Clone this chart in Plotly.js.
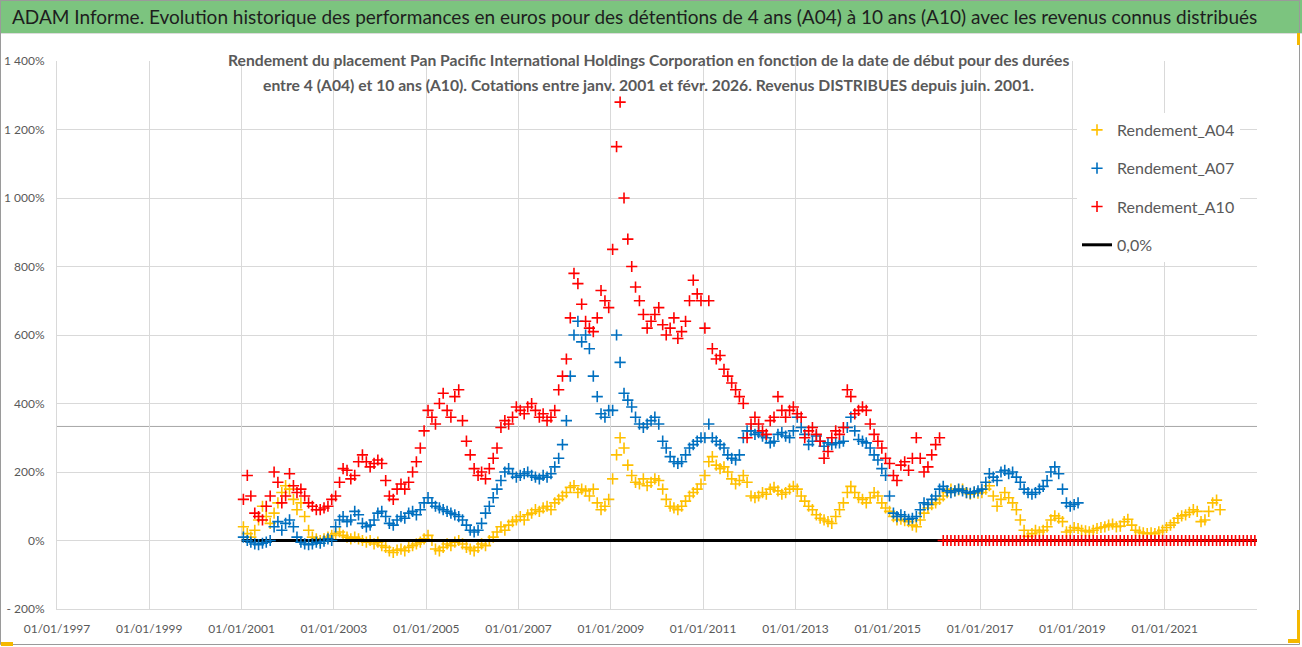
<!DOCTYPE html>
<html>
<head>
<meta charset="utf-8">
<script src="https://cdn.plot.ly/plotly-3.0.1.min.js"></script>
<style>
html,body{margin:0;padding:0;background:#fff;}
#chart{width:1302px;height:647px;}
</style>
</head>
<body>
<div id="chart"></div>
<script>
// ---------- DATA (monthly readings, values in %) ----------
const startA04 = [2001, 1];
const A04 = [
  40, 20, 10, 30, 60, 100, 70, 50, 80, 110, 140, 160,
  150, 120, 90, 110, 70, 30, 10, 5, 0, 5, 10, 15,
  20, 25, 15, 10, 5, 10, 5, 0, -5, 0, -10, -5,
  -15, -20, -30, -35, -28, -25, -30, -20, -15, -10, -5, 5,
  15, 0, -25, -30, -20, -10, -15, -5, 0, -10, -20, -25,
  -30, -20, -10, -15, 0, 10, 25, 40, 30, 45, 55, 60,
  70, 60, 75, 80, 90, 85, 95, 100, 90, 110, 120, 130,
  140, 155, 160, 140, 150, 145, 130, 150, 110, 90, 100, 120,
  180, 250, 300, 270, 220, 190, 170, 165, 180, 160, 170, 180,
  175, 150, 120, 100, 95, 90, 100, 115, 130, 140, 150, 165,
  190, 230, 245, 220, 210, 215, 200, 180, 165, 175, 190, 170,
  130, 125, 130, 140, 135, 150, 155, 145, 135, 140, 150, 158,
  150, 130, 115, 100, 90, 75, 65, 60, 55, 50, 70, 90,
  110, 140, 158, 140, 125, 120, 110, 125, 140, 130, 110, 95,
  85, 70, 60, 62, 58, 55, 45, 40, 60, 80, 95, 105,
  110, 120, 130, 140, 150, 145, 148, 150, 140, 135, 140, 138,
  140, 150, 160, 130, 100, 120, 140, 125, 110, 90, 60, 30,
  12, 20, 30, 25, 30, 40, 60, 72, 65, 55, 25, 30,
  38, 35, 30, 28, 25, 30, 35, 38, 40, 45, 48, 40,
  42, 55, 62, 45, 30, 25, 22, 20, 22, 20, 25, 30,
  38, 45, 52, 65, 72, 75, 82, 90, 85, 55, 60, 85,
  110, 118, 90
];

const startA07 = [2001, 1];
const A07 = [
  10, 0, -5, -10, -12, -8, -5, 0, 40, 55, 30, 50,
  60, 40, 10, -5, -10, -12, -10, -5, -8, -2, 5, 0,
  40, 60, 70, 55, 60, 85, 75, 50, 40, 45, 60, 80,
  85, 70, 50, 45, 60, 70, 65, 80, 85, 75, 90, 110,
  125, 110, 100, 95, 90, 85, 80, 75, 70, 60, 45, 30,
  25, 30, 50, 80, 100, 125, 150, 175, 200, 210, 195, 185,
  190, 195, 200, 190, 185, 180, 190, 185, 195, 215, 240, 280,
  350, 480, 600, 640, 580, 600, 560, 480, 420, 370, 360, 380,
  380, 600, 520, 430, 410, 390, 360, 340, 330, 340, 350, 360,
  340, 290, 270, 245, 230, 225, 230, 250, 270, 280, 290, 300,
  300, 340, 300, 290, 280, 270, 250, 240, 235, 250, 300, 320,
  320, 310, 315, 305, 300, 285, 290, 310, 315, 305, 300, 320,
  360, 330, 310, 280, 290, 305, 290, 275, 285, 280, 285, 285,
  290, 330, 360, 320, 295, 290, 285, 270, 250, 235, 210, 190,
  130, 80, 70, 75, 70, 62, 65, 70, 90, 110, 105, 120,
  130, 150, 158, 145, 140, 145, 150, 145, 140, 138, 142, 145,
  150, 170, 195, 185, 175, 200, 205, 195, 200, 185, 170, 150,
  140, 135, 140, 150, 158, 175, 200, 215, 195, 150, 110, 100,
  105, 110
];

const startA10 = [2001, 1];
const A10 = [
  120, 190, 130, 80, 70, 60, 100, 130, 200, 170, 110, 130,
  195, 160, 140, 150, 130, 110, 100, 90, 90, 95, 100, 120,
  130, 170, 210, 205, 180, 190, 230, 250, 230, 215, 225, 235,
  225, 175, 130, 120, 150, 165, 150, 170, 200, 230, 270, 320,
  380, 360, 340, 400, 430, 380, 360, 420, 440, 350, 290, 250,
  210, 190, 200, 180, 210, 240, 270, 330, 350, 340, 360, 390,
  380, 370, 390, 400, 380, 360, 370, 350, 360, 380, 440, 480,
  530, 650, 780, 750, 690, 640, 620, 610, 650, 730, 700, 680,
  850, 1150, 1280, 1000, 880, 800, 740, 700, 660, 620, 640, 660,
  680, 630, 600, 620, 650, 590, 610, 640, 700, 760, 720, 700,
  620, 700, 560, 530, 540, 500, 480, 460, 440, 420, 400, 300,
  340, 360, 340, 320, 310, 350, 360, 420, 380, 360, 380, 390,
  370, 360, 300, 320, 330, 310, 290, 240, 260, 300, 320, 310,
  330, 440, 420, 370, 380, 390, 380, 340, 310, 290, 270, 240,
  225, 190, 175, 220, 230, 205, 240, 300, 240, 200, 215, 250,
  280, 300,
  // no 10-year result yet: plotted at 0
  0, 0, 0, 0, 0, 0, 0, 0, 0, 0,
  0, 0, 0, 0, 0, 0, 0, 0, 0, 0, 0, 0,
  0, 0, 0, 0, 0, 0, 0, 0, 0, 0, 0, 0,
  0, 0, 0, 0, 0, 0, 0, 0, 0, 0, 0, 0,
  0, 0, 0, 0, 0, 0, 0, 0, 0, 0, 0, 0,
  0, 0, 0, 0, 0, 0, 0, 0, 0, 0, 0, 0,
  0, 0, 0, 0, 0, 0, 0, 0, 0, 0, 0, 0
];

const zeroDates = ['2001-01-01', '2022-12-31'];
const zeroVals = [0, 0];
const refLineValue = 333;

const xTickVals = ['1997-01-01','1999-01-01','2001-01-01','2003-01-01','2005-01-01','2007-01-01','2009-01-01','2011-01-01','2013-01-01','2015-01-01','2017-01-01','2019-01-01','2021-01-01'];
const xTickText = ['01/01/1997','01/01/1999','01/01/2001','01/01/2003','01/01/2005','01/01/2007','01/01/2009','01/01/2011','01/01/2013','01/01/2015','01/01/2017','01/01/2019','01/01/2021'];
const yTickVals = [-200, 0, 200, 400, 600, 800, 1000, 1200, 1400];
const yTickText = ['- 200%', '0%', '200%', '400%', '600%', '800%', '1 000%', '1 200%', '1 400%'];

const seriesNames = ['Rendement_A04', 'Rendement_A07', 'Rendement_A10', '0,0%'];
const headerText = 'ADAM Informe. Evolution historique des performances en euros pour des détentions de 4 ans (A04) à 10 ans (A10) avec les revenus connus distribués';
const titleLine1 = 'Rendement du placement Pan Pacific International Holdings Corporation en fonction de la date de début pour des durées';
const titleLine2 = 'entre 4 (A04) et 10 ans (A10). Cotations entre janv. 2001 et févr. 2026. Revenus DISTRIBUES depuis juin. 2001.';

// ---------- helpers ----------
function monthDates(start, n) {
  const out = [];
  let y = start[0], m = start[1];
  for (let i = 0; i < n; i++) {
    out.push(y + '-' + String(m).padStart(2, '0') + '-15');
    m++; if (m > 12) { m = 1; y++; }
  }
  return out;
}

const FONT = 'Lato, "Open Sans", sans-serif';
const W = 1302, H = 647, ML = 57, MR = 45, MT = 61, MB = 38;
const PW = W - ML - MR, PH = H - MT - MB;
const px = v => (v - ML) / PW;           // pixel x -> paper
const py = v => (H - MB - v) / PH;       // pixel y -> paper

function markerTrace(name, start, vals, color) {
  return {
    type: 'scatter', mode: 'markers', name: name, legendgroup: name,
    x: monthDates(start, vals.length), y: vals,
    marker: { symbol: 'cross-thin', size: 8, color: color, line: { color: color, width: 1.6 } },
    hoverinfo: 'x+y'
  };
}

const traces = [
  Object.assign(markerTrace(seriesNames[0], startA04, A04, '#FFC000'), { legendrank: 1 }),
  { type: 'scatter', mode: 'lines', name: seriesNames[3], legendgroup: seriesNames[3], legendrank: 4,
    x: zeroDates, y: zeroVals, line: { color: '#000000', width: 3 } },
  Object.assign(markerTrace(seriesNames[1], startA07, A07, '#0070C0'), { legendrank: 2 }),
  Object.assign(markerTrace(seriesNames[2], startA10, A10, '#FF0000'), { legendrank: 3 })
];

const layout = {
  width: W, height: H,
  margin: { l: ML, r: MR, t: MT, b: MB, pad: 0 },
  paper_bgcolor: '#ffffff', plot_bgcolor: '#ffffff',
  font: { family: FONT, color: '#595959' },
  showlegend: true,
  xaxis: {
    type: 'date', range: ['1997-01-01', '2023-01-01'],
    tickmode: 'array', tickvals: xTickVals, ticktext: xTickText,
    showgrid: true, gridcolor: '#d9d9d9', gridwidth: 1,
    showline: true, linecolor: '#d9d9d9', linewidth: 1,
    ticks: 'outside', ticklen: 9, tickcolor: 'rgba(0,0,0,0)',
    tickfont: { family: FONT, size: 12, color: '#595959' },
    zeroline: false, fixedrange: true
  },
  yaxis: {
    range: [-200, 1400],
    tickmode: 'array', tickvals: yTickVals, ticktext: yTickText,
    showgrid: true, gridcolor: '#d9d9d9', gridwidth: 1,
    showline: true, linecolor: '#d9d9d9', linewidth: 1,
    ticks: 'outside', ticklen: 9, tickcolor: 'rgba(0,0,0,0)',
    tickfont: { family: FONT, size: 12, color: '#595959' },
    zeroline: false, fixedrange: true
  },
  legend: {
    x: px(1077), y: py(113), xanchor: 'left', yanchor: 'top',
    bgcolor: '#ffffff', borderwidth: 0,
    font: { family: FONT, size: 16, color: '#595959' },
    tracegroupgap: 14.5, itemwidth: 30
  },
  shapes: [
    // header band
    { type: 'rect', xref: 'paper', yref: 'paper', x0: px(0), x1: px(W), y0: py(33), y1: py(0),
      fillcolor: '#7cc47f', line: { width: 0 }, layer: 'above' },
    { type: 'line', xref: 'paper', yref: 'paper', x0: px(0), x1: px(W), y0: py(33.5), y1: py(33.5),
      line: { color: '#dcdcdc', width: 1 }, layer: 'above' },
    // white box behind chart title
    { type: 'rect', xref: 'paper', yref: 'paper', x0: px(222), x1: px(1075), y0: py(98), y1: py(46),
      fillcolor: '#ffffff', line: { width: 0 }, layer: 'between' },
    // reference horizontal line
    { type: 'line', xref: 'paper', yref: 'y', x0: 0, x1: 1, y0: refLineValue, y1: refLineValue,
      line: { color: '#a6a6a6', width: 1 }, layer: 'between' },
    // outer frame
    { type: 'rect', xref: 'paper', yref: 'paper', x0: px(0.5), x1: px(1299.5), y0: py(644.5), y1: py(0.5),
      fillcolor: 'rgba(0,0,0,0)', line: { color: '#9a9a9a', width: 1 }, layer: 'above' },
    // small selection handles
    { type: 'rect', xref: 'paper', yref: 'paper', x0: px(1297), x1: px(1300), y0: py(640), y1: py(610),
      fillcolor: '#f5b800', line: { width: 0 }, layer: 'above' },
    { type: 'rect', xref: 'paper', yref: 'paper', x0: px(1288), x1: px(1300), y0: py(643), y1: py(639),
      fillcolor: '#f5b800', line: { width: 0 }, layer: 'above' },
    { type: 'rect', xref: 'paper', yref: 'paper', x0: px(1297), x1: px(1300), y0: py(45), y1: py(33),
      fillcolor: '#f5b800', line: { width: 0 }, layer: 'above' },
    { type: 'rect', xref: 'paper', yref: 'paper', x0: px(1), x1: px(13), y0: py(646), y1: py(642),
      fillcolor: '#f5b800', line: { width: 0 }, layer: 'above' }
  ],
  annotations: [
    { xref: 'paper', yref: 'paper', x: px(10), y: py(17), xanchor: 'left', yanchor: 'middle',
      text: headerText, showarrow: false,
      font: { family: FONT, size: 19, color: '#1e1e1e' } },
    { xref: 'paper', yref: 'paper', x: px(648), y: py(60), xanchor: 'center', yanchor: 'middle',
      text: '<b>' + titleLine1 + '</b>', showarrow: false,
      font: { family: FONT, size: 15.7, color: '#595959' } },
    { xref: 'paper', yref: 'paper', x: px(648), y: py(85), xanchor: 'center', yanchor: 'middle',
      text: '<b>' + titleLine2 + '</b>', showarrow: false,
      font: { family: FONT, size: 15.7, color: '#595959' } }
  ]
};

Plotly.newPlot('chart', traces, layout, { displayModeBar: false, staticPlot: true });
</script>
</body>
</html>
